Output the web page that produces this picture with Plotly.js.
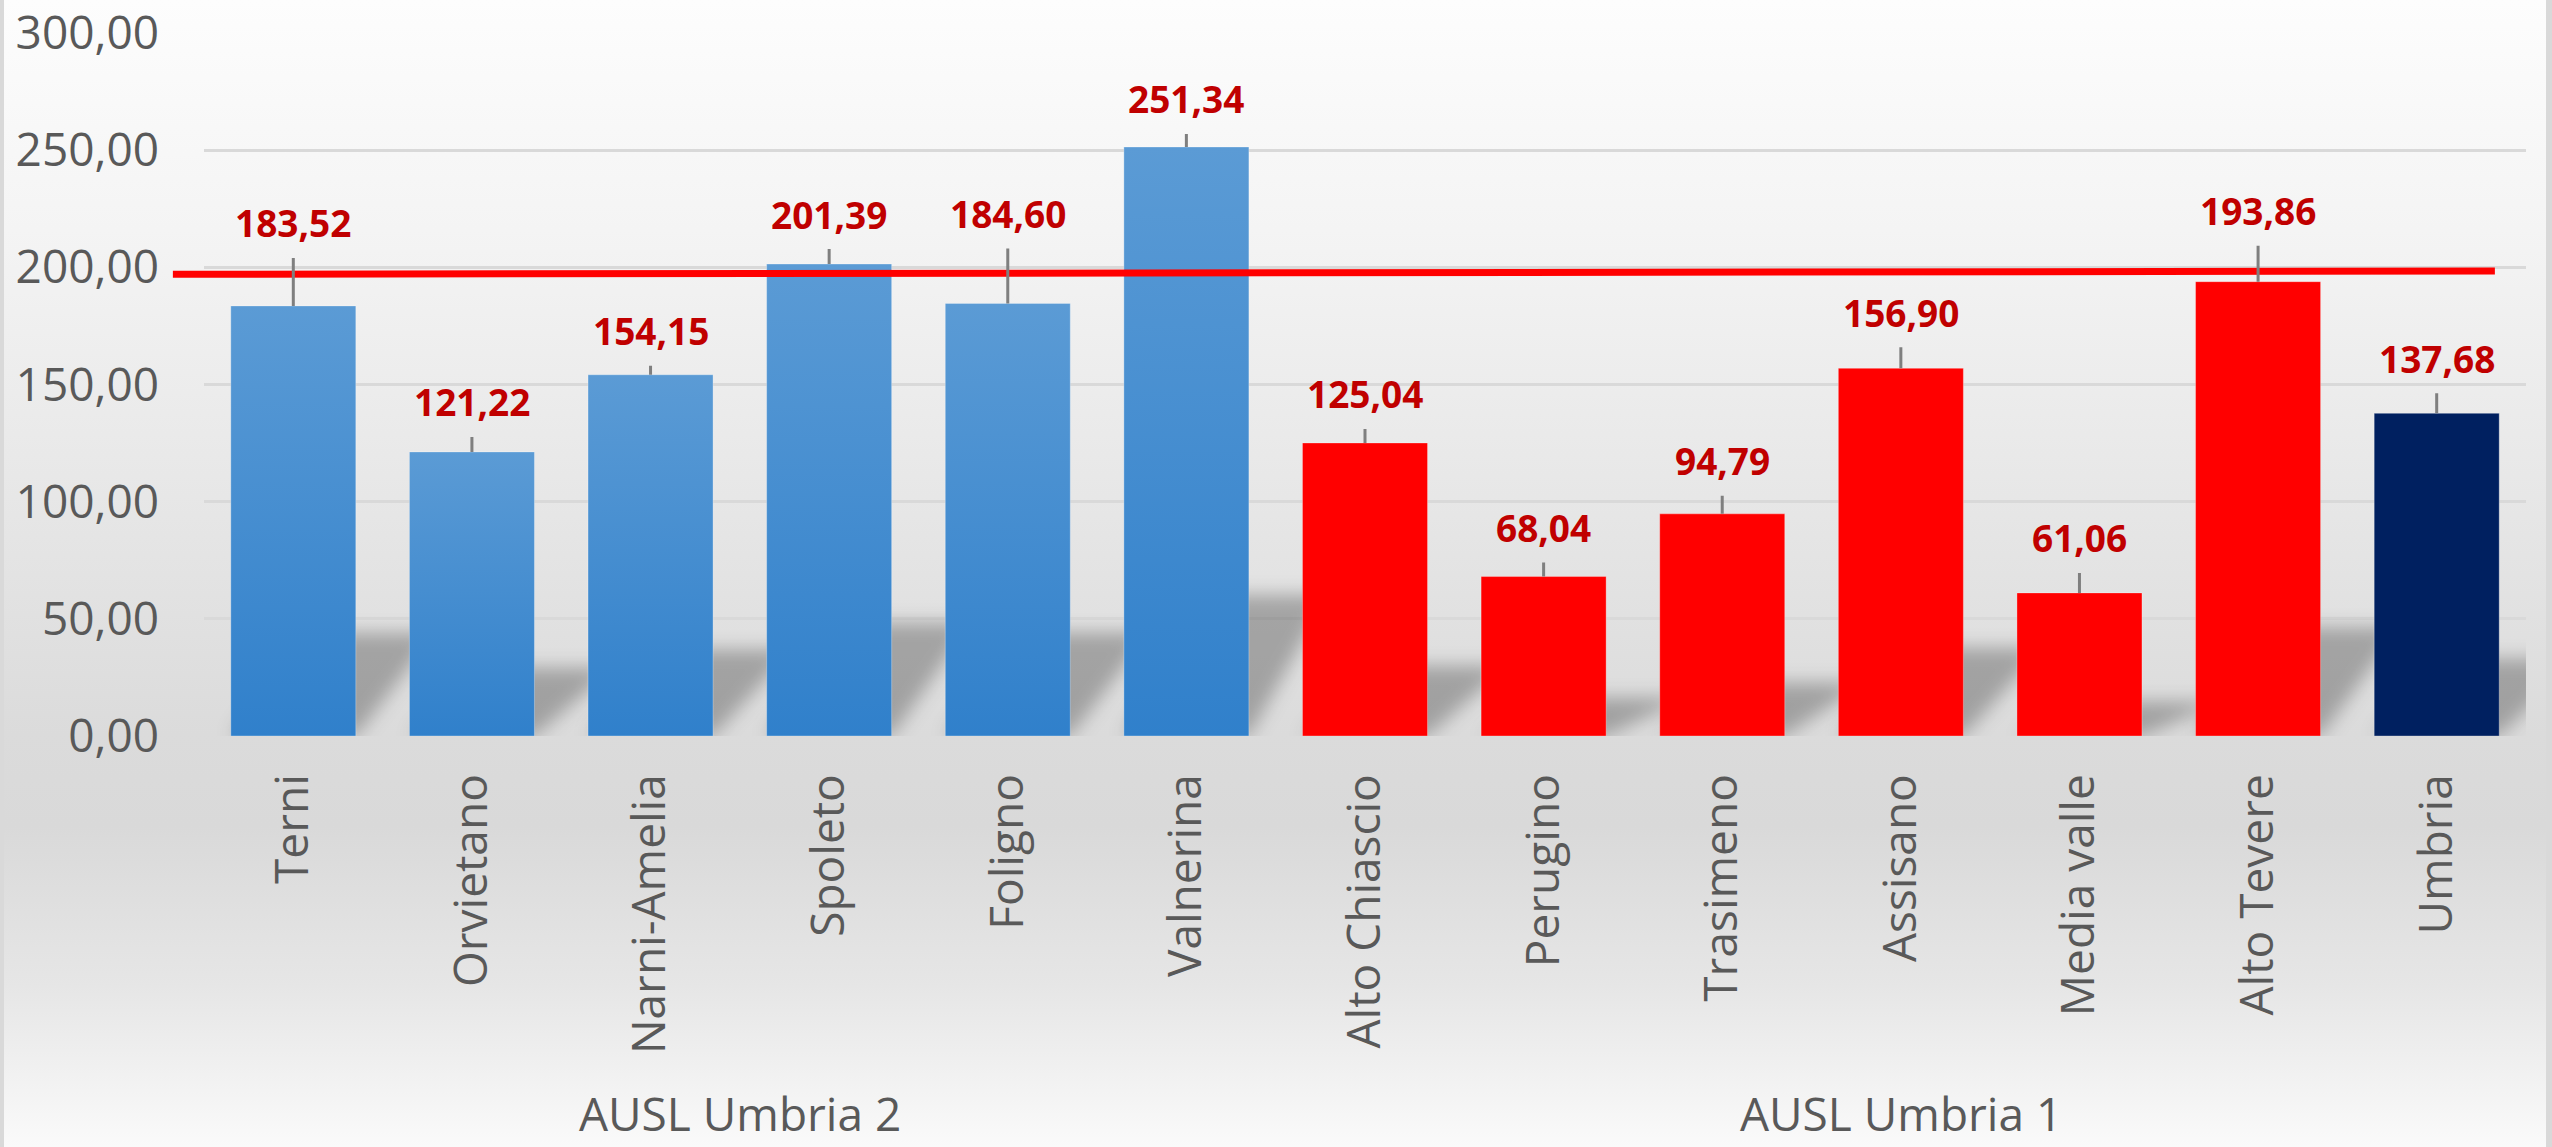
<!DOCTYPE html>
<html>
<head>
<meta charset="utf-8">
<script src="https://cdn.plot.ly/plotly-3.0.1.min.js"></script>
<style>
html,body{margin:0;padding:0;overflow:hidden;background:#ffffff}
#chart{width:2552px;height:1147px;
  background:linear-gradient(to bottom,#fdfdfd 0%,#f4f4f4 20%,#e6e6e6 45%,#dbdbdb 64%,#d9d9d9 72%,#e6e6e6 86%,#fafafa 100%);
  box-shadow:inset 4px 0 0 #d9d9d9, inset -6px 0 0 #d9d9d9;}
</style>
</head>
<body>
<div id="chart"></div>
<script>
// ---- data ----
const categories = ['Terni','Orvietano','Narni-Amelia','Spoleto','Foligno','Valnerina',
  'Alto Chiascio','Perugino','Trasimeno','Assisano','Media valle','Alto Tevere','Umbria'];
const groups = ['AUSL Umbria 2','AUSL Umbria 2','AUSL Umbria 2','AUSL Umbria 2','AUSL Umbria 2','AUSL Umbria 2',
  'AUSL Umbria 1','AUSL Umbria 1','AUSL Umbria 1','AUSL Umbria 1','AUSL Umbria 1','AUSL Umbria 1','AUSL Umbria 1'];
const values = [183.52,121.22,154.15,201.39,184.60,251.34,125.04,68.04,94.79,156.90,61.06,193.86,137.68];
const referenceLine = [197.0, 198.4];   // hand-drawn red reference line (left end, right end)
const yTicks = [0,50,100,150,200,250,300];

// ---- styles ----
const groupColors = {'AUSL Umbria 2':'#4a8fd2','AUSL Umbria 1':'#ff0000'};
const totalCategory = 'Umbria';
const totalColor = '#002060';
const labelLift = [83,50,44,50,90,48,49,49,53,56,55,71,55];   // px from bar top to label centre
const shadowScale = 0.24, shadowShift = 0.45, barWidth = 0.7;
const fontFam = '"Open Sans", "Noto Sans", sans-serif';

const xIdx = categories.map((c,i)=>i);
const barColors = categories.map((c,i)=> c===totalCategory ? totalColor : groupColors[groups[i]]);
const fmt = v => v.toFixed(2).replace('.', ',');

const shapes = [];
const shadowIdx = [];
values.forEach((v,i)=>{
  const L = xIdx[i]-barWidth/2, R = xIdx[i]+barWidth/2, h = v*shadowScale;
  shadowIdx.push(shapes.length);
  shapes.push({type:'path', xref:'x', yref:'y', layer:'between',
    path:`M${L},0 L${R},0 L${R+shadowShift},${h} L${L+shadowShift},${h} Z`,
    fillcolor:'rgba(0,0,0,0.27)', line:{width:0}});
});
shapes.push({type:'line', xref:'paper', yref:'y', layer:'above',
  x0:-0.0134, x1:0.9866, y0:referenceLine[0], y1:referenceLine[1],
  line:{color:'#ff0000', width:7}});

const annotations = values.map((v,i)=>({
  x:xIdx[i], y:v, xref:'x', yref:'y', text:fmt(v),
  showarrow:true, arrowhead:0, arrowwidth:3, arrowcolor:'#7f7f7f',
  ax:0, ay:-labelLift[i], standoff:0, borderpad:9,
  font:{family:fontFam, size:37, color:'#c00000', weight:700}
}));
[...new Set(groups)].forEach(g=>{
  const idx = xIdx.filter(i=>groups[i]===g);
  const mid = (idx[0]+idx[idx.length-1])/2;
  annotations.push({x:mid, xref:'x', y:-0.582, yref:'paper', yanchor:'bottom',
    text:g, showarrow:false, font:{family:fontFam, size:46, color:'#595959'}});
});

const data = [{
  type:'bar', x:xIdx, y:values, width:barWidth,
  marker:{color:barColors, line:{color:'rgba(255,255,255,0.3)', width:1}},
  hoverinfo:'skip'
}];

const layout = {
  width:2552, height:1147,
  margin:{l:204, r:26, t:32, b:411, autoexpand:false},
  paper_bgcolor:'rgba(0,0,0,0)', plot_bgcolor:'rgba(0,0,0,0)',
  separators:', ',
  showlegend:false,
  xaxis:{range:[-0.5,12.5], tickvals:xIdx, ticktext:categories, tickangle:-90,
    ticks:'', showgrid:false, zeroline:false, showline:false, automargin:false,
    ticklabelstandoff:28,
    tickfont:{family:fontFam, size:46, color:'#595959'}},
  yaxis:{range:[0,300.4], tickvals:yTicks, tickformat:'.2f',
    showgrid:true, gridcolor:'#d9d9d9', gridwidth:3, zeroline:false, showline:false,
    ticks:'', automargin:false, ticklabelstandoff:44, ticklabeloverflow:'allow',
    tickfont:{family:fontFam, size:46, color:'#595959'}},
  shapes:shapes,
  annotations:annotations
};

Plotly.newPlot('chart', data, layout, {staticPlot:true, displayModeBar:false}).then(gd=>{
  const ns = 'http://www.w3.org/2000/svg';
  const svg = gd.querySelector('svg.main-svg');
  let defs = svg.querySelector('defs');
  if(!defs){ defs = document.createElementNS(ns,'defs'); svg.insertBefore(defs, svg.firstChild); }
  const lg = document.createElementNS(ns,'linearGradient');
  lg.setAttribute('id','blueGrad'); lg.setAttribute('x1','0'); lg.setAttribute('y1','0');
  lg.setAttribute('x2','0'); lg.setAttribute('y2','1');
  [['0','#5b9bd5'],['1','#3080cb']].forEach(([o,c])=>{
    const s = document.createElementNS(ns,'stop'); s.setAttribute('offset',o); s.setAttribute('stop-color',c); lg.appendChild(s);
  });
  defs.appendChild(lg);
  const f = document.createElementNS(ns,'filter');
  f.setAttribute('id','shBlur'); f.setAttribute('x','-50%'); f.setAttribute('y','-50%');
  f.setAttribute('width','200%'); f.setAttribute('height','200%');
  const b = document.createElementNS(ns,'feGaussianBlur'); b.setAttribute('stdDeviation','9');
  f.appendChild(b); defs.appendChild(f);

  gd.querySelectorAll('.trace.bars .point path').forEach((p,i)=>{
    if(groups[i]==='AUSL Umbria 2') p.style.fill = 'url(#blueGrad)';
  });
  gd.querySelectorAll('.shapelayer path[data-index]').forEach(p=>{
    const k = +p.getAttribute('data-index');
    if(shadowIdx.includes(k)) p.setAttribute('filter','url(#shBlur)');
  });
});
</script>
</body>
</html>
